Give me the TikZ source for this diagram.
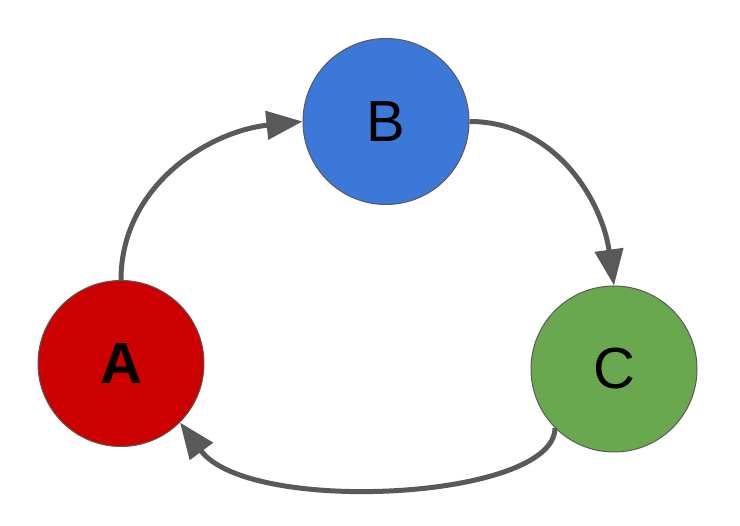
\documentclass[tikz,border=0pt]{standalone}
\usepackage{fontspec}
\setmainfont{Liberation Sans}
\usetikzlibrary{arrows.meta}
\definecolor{nodeRed}{HTML}{CC0000}
\definecolor{nodeBlue}{HTML}{3C78D8}
\definecolor{nodeGreen}{HTML}{6AA84F}
\definecolor{edgeGray}{HTML}{595959}
\begin{document}
\begin{tikzpicture}[x=1pt,y=1pt,
  vertex/.style={circle,draw=edgeGray,line width=1pt,minimum size=166pt,inner sep=0pt,
    font=\fontsize{58}{60}\selectfont},
  edge/.style={draw=edgeGray,line width=5pt,-{Triangle[length=36pt,width=28pt]}}]
\useasboundingbox (0,0) rectangle (740,526);
\node[vertex,fill=nodeRed,font=\fontsize{58}{60}\selectfont\bfseries] (A) at (121,162.5) {A};
\node[vertex,fill=nodeBlue] (B) at (386,404.5) {B};
\node[vertex,fill=nodeGreen] (C) at (614,157) {C};
\draw[edge] (A.north) to[out=90,in=186] (B.west);
\draw[edge] (B.east) to[out=0,in=98] (C.north);
\draw[edge] (C.225) .. controls +(0,-72) and +(69,-93) .. (A.315);
\end{tikzpicture}
\end{document}
